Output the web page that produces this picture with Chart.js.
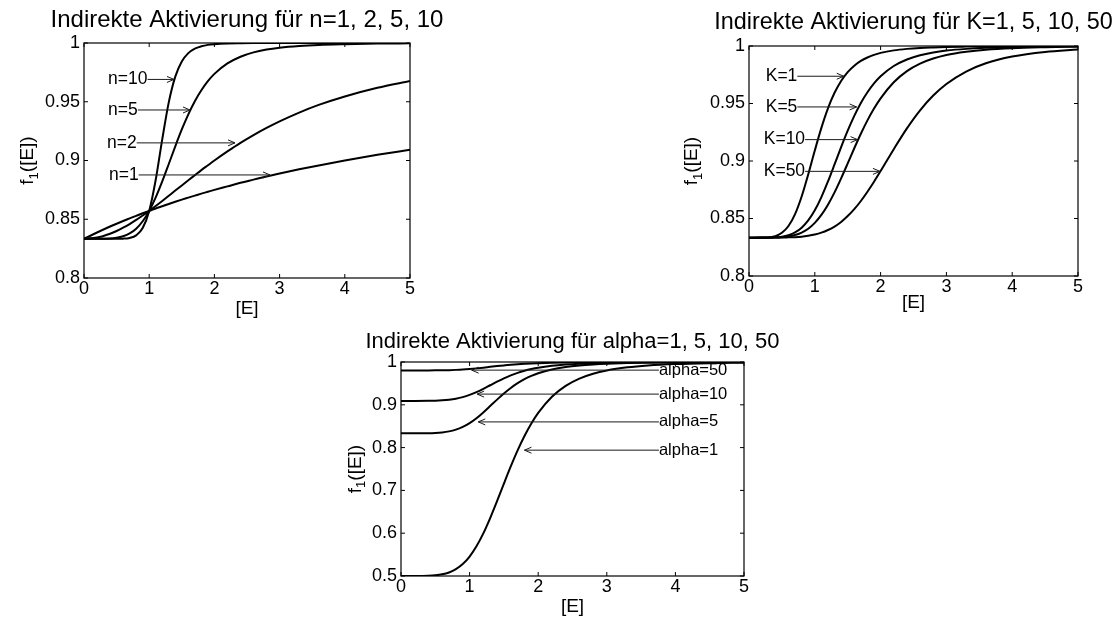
<!DOCTYPE html>
<html>
<head>
<meta charset="utf-8">
<script src="https://cdn.jsdelivr.net/npm/chart.js@4.4.0/dist/chart.umd.min.js"></script>
<style>
    html, body { margin: 0; padding: 0; background: #fff; }
    body { width: 1118px; height: 619px; position: relative; overflow: hidden; }
    canvas { position: absolute; }
</style>
</head>
<body>
<canvas id="chart-n" width="450" height="330" style="left:0px;top:0px"></canvas>
<canvas id="chart-k" width="458" height="330" style="left:660px;top:0px"></canvas>
<canvas id="chart-alpha" width="480" height="299" style="left:320px;top:320px"></canvas>
<script>
// Stützstellen [E] (gemeinsam für alle drei Diagramme)
const eWerte = [0, 0.2, 0.4, 0.5, 0.6, 0.7, 0.8, 0.9, 1.0, 1.1, 1.2, 1.3, 1.4, 1.5, 1.6, 1.7, 1.8, 1.9, 2.0, 2.2, 2.4, 2.6, 2.8, 3.0, 3.3, 3.6, 4.0, 4.5, 5.0];

// Diagramm 1: n = 1, 2, 5, 10
const n1  = [0.8333, 0.8387, 0.8438, 0.8462, 0.8485, 0.8507, 0.8529, 0.8551, 0.8571, 0.8592, 0.8611, 0.8630, 0.8649, 0.8667, 0.8684, 0.8701, 0.8718, 0.8734, 0.8750, 0.8780, 0.8810, 0.8837, 0.8864, 0.8889, 0.8925, 0.8958, 0.9000, 0.9048, 0.9091];
const n2  = [0.8333, 0.8344, 0.8377, 0.8400, 0.8428, 0.8459, 0.8494, 0.8532, 0.8571, 0.8613, 0.8656, 0.8700, 0.8744, 0.8788, 0.8832, 0.8875, 0.8918, 0.8959, 0.9000, 0.9077, 0.9150, 0.9216, 0.9277, 0.9333, 0.9408, 0.9473, 0.9545, 0.9619, 0.9677];
const n5  = [0.8333, 0.8334, 0.8336, 0.8342, 0.8355, 0.8379, 0.8420, 0.8483, 0.8571, 0.8686, 0.8822, 0.8970, 0.9121, 0.9264, 0.9393, 0.9505, 0.9598, 0.9675, 0.9737, 0.9826, 0.9883, 0.9920, 0.9944, 0.9960, 0.9975, 0.9984, 0.9990, 0.9995, 0.9997];
const n10 = [0.8333, 0.8333, 0.8333, 0.8334, 0.8335, 0.8341, 0.8363, 0.8425, 0.8571, 0.8836, 0.9180, 0.9495, 0.9714, 0.9843, 0.9914, 0.9952, 0.9972, 0.9984, 0.9990, 0.9996, 0.9998, 0.9999, 0.9999, 1, 1, 1, 1, 1, 1];

// Diagramm 2: K = 1, 5, 10, 50
const k1  = [0.8333, 0.8334, 0.8347, 0.8376, 0.8435, 0.8538, 0.8691, 0.8883, 0.9091, 0.9288, 0.9458, 0.9593, 0.9696, 0.9773, 0.9829, 0.9870, 0.9900, 0.9923, 0.9940, 0.9962, 0.9975, 0.9983, 0.9988, 0.9992, 0.9995, 0.9997, 0.9998, 0.9999, 0.9999];
const k5  = [0.8333, 0.8334, 0.8336, 0.8342, 0.8355, 0.8379, 0.8420, 0.8483, 0.8571, 0.8686, 0.8822, 0.8970, 0.9121, 0.9264, 0.9393, 0.9505, 0.9598, 0.9675, 0.9737, 0.9826, 0.9883, 0.9920, 0.9944, 0.9960, 0.9975, 0.9984, 0.9990, 0.9995, 0.9997];
const k10 = [0.8333, 0.8333, 0.8335, 0.8338, 0.8344, 0.8356, 0.8378, 0.8411, 0.8462, 0.8531, 0.8620, 0.8727, 0.8849, 0.8979, 0.9111, 0.9237, 0.9353, 0.9456, 0.9545, 0.9685, 0.9782, 0.9847, 0.9891, 0.9922, 0.9950, 0.9968, 0.9981, 0.9989, 0.9994];
const k50 = [0.8333, 0.8333, 0.8334, 0.8334, 0.8336, 0.8338, 0.8342, 0.8350, 0.8361, 0.8377, 0.8400, 0.8430, 0.8470, 0.8521, 0.8581, 0.8652, 0.8733, 0.8820, 0.8913, 0.9103, 0.9284, 0.9441, 0.9569, 0.9670, 0.9778, 0.9850, 0.9908, 0.9948, 0.9969];

// Diagramm 3: alpha = 1, 5, 10, 50
const a1  = [0.5000, 0.5000, 0.5005, 0.5016, 0.5039, 0.5083, 0.5159, 0.5279, 0.5455, 0.5694, 0.5996, 0.6354, 0.6749, 0.7158, 0.7559, 0.7934, 0.8270, 0.8562, 0.8810, 0.9187, 0.9442, 0.9612, 0.9725, 0.9802, 0.9875, 0.9919, 0.9952, 0.9973, 0.9984];
const a5  = [0.8333, 0.8334, 0.8336, 0.8342, 0.8355, 0.8379, 0.8420, 0.8483, 0.8571, 0.8686, 0.8822, 0.8970, 0.9121, 0.9264, 0.9393, 0.9505, 0.9598, 0.9675, 0.9737, 0.9826, 0.9883, 0.9920, 0.9944, 0.9960, 0.9975, 0.9984, 0.9990, 0.9995, 0.9997];
const a10 = [0.9091, 0.9091, 0.9093, 0.9096, 0.9104, 0.9118, 0.9142, 0.9179, 0.9231, 0.9297, 0.9374, 0.9457, 0.9540, 0.9618, 0.9687, 0.9746, 0.9795, 0.9835, 0.9867, 0.9912, 0.9941, 0.9960, 0.9972, 0.9980, 0.9987, 0.9992, 0.9995, 0.9997, 0.9998];
const a50 = [0.9804, 0.9804, 0.9804, 0.9805, 0.9807, 0.9810, 0.9816, 0.9824, 0.9836, 0.9851, 0.9868, 0.9887, 0.9905, 0.9921, 0.9936, 0.9948, 0.9958, 0.9967, 0.9973, 0.9982, 0.9988, 0.9992, 0.9994, 0.9996, 0.9997, 0.9998, 0.9999, 0.9999, 0.9999];

// Beschriftungen mit Pfeilen (Textanfang tx/ty, Pfeilspitze px/py, alles in Datenkoordinaten)
const pfeileN = [
    { text: 'n=10', tx: 0.37,  ty: 0.969,  px: 1.38,  py: 0.969 },
    { text: 'n=5',  tx: 0.37,  ty: 0.943,  px: 1.626, py: 0.943 },
    { text: 'n=2',  tx: 0.353, ty: 0.915,  px: 2.316, py: 0.915 },
    { text: 'n=1',  tx: 0.383, ty: 0.8877, px: 2.853, py: 0.8877 }
];
const pfeileK = [
    { text: 'K=1',  tx: 0.254, ty: 0.9737, px: 1.44,  py: 0.9737 },
    { text: 'K=5',  tx: 0.254, ty: 0.947,  px: 1.635, py: 0.947 },
    { text: 'K=10', tx: 0.224, ty: 0.9186, px: 1.65,  py: 0.9186 },
    { text: 'K=50', tx: 0.224, ty: 0.891,  px: 1.99,  py: 0.891 }
];
const pfeileAlpha = [
    { text: 'alpha=50', tx: 3.76, ty: 0.981, px: 1.03,  py: 0.981 },
    { text: 'alpha=10', tx: 3.76, ty: 0.925, px: 1.11,  py: 0.925 },
    { text: 'alpha=5',  tx: 3.76, ty: 0.86,  px: 1.127, py: 0.86 },
    { text: 'alpha=1',  tx: 3.76, ty: 0.794, px: 1.80,  py: 0.794 }
];

const SCHRIFT = '"Liberation Sans", Arial, Helvetica, sans-serif';
Chart.defaults.font.family = SCHRIFT;
Chart.defaults.color = '#000';

// Rahmen, innere Ticks, Titel, y-Beschriftung und Pfeile
const dekoPlugin = {
    id: 'deko',
    afterDraw(chart, args, opts) {
        const { ctx, chartArea: a, scales: { x, y } } = chart;
        ctx.save();

        // Achsenrahmen
        ctx.strokeStyle = '#000';
        ctx.lineWidth = 1.2;
        ctx.strokeRect(a.left, a.top, a.right - a.left, a.bottom - a.top);

        // Ticks nach innen, auf allen vier Seiten
        ctx.lineWidth = 1;
        ctx.beginPath();
        x.ticks.forEach(t => {
            const p = x.getPixelForValue(t.value);
            ctx.moveTo(p, a.bottom); ctx.lineTo(p, a.bottom - 4);
            ctx.moveTo(p, a.top); ctx.lineTo(p, a.top + 4);
        });
        y.ticks.forEach(t => {
            const p = y.getPixelForValue(t.value);
            ctx.moveTo(a.left, p); ctx.lineTo(a.left + 4, p);
            ctx.moveTo(a.right, p); ctx.lineTo(a.right - 4, p);
        });
        ctx.stroke();

        // Titel
        ctx.fillStyle = '#000';
        ctx.font = opts.titelGroesse + 'px ' + SCHRIFT;
        ctx.textAlign = 'center';
        ctx.textBaseline = 'alphabetic';
        ctx.fillText(opts.titel, (a.left + a.right) / 2, a.top - opts.titelAbstand);

        // y-Beschriftung f_1([E]) mit Index
        ctx.save();
        ctx.translate(a.left + opts.yLabelAbstand, (a.top + a.bottom) / 2);
        ctx.rotate(-Math.PI / 2);
        ctx.textAlign = 'left';
        ctx.textBaseline = 'middle';
        ctx.font = '19px ' + SCHRIFT;
        const wf = ctx.measureText('f').width;
        const wr = ctx.measureText('([E])').width;
        ctx.font = '13px ' + SCHRIFT;
        const w1 = ctx.measureText('1').width;
        let s = -(wf + w1 + wr) / 2;
        ctx.font = '19px ' + SCHRIFT;
        ctx.fillText('f', s, 0);
        ctx.font = '13px ' + SCHRIFT;
        ctx.fillText('1', s + wf, 6);
        ctx.font = '19px ' + SCHRIFT;
        ctx.fillText('([E])', s + wf + w1, 0);
        ctx.restore();

        // Pfeile mit Beschriftung
        ctx.font = opts.pfeilGroesse + 'px ' + SCHRIFT;
        ctx.textAlign = 'left';
        ctx.textBaseline = 'middle';
        opts.pfeile.forEach(p => {
            const tx = x.getPixelForValue(p.tx);
            const ty = y.getPixelForValue(p.ty);
            const sx = x.getPixelForValue(p.px);
            const sy = y.getPixelForValue(p.py);
            const w = ctx.measureText(p.text).width;
            ctx.fillStyle = '#000';
            ctx.fillText(p.text, tx, ty);
            const x0 = sx > tx ? tx + w : tx;
            const dx = sx - x0, dy = sy - ty;
            const len = Math.hypot(dx, dy);
            const ux = dx / len, uy = dy / len;
            ctx.strokeStyle = '#1a1a1a';
            ctx.lineWidth = 1;
            ctx.beginPath();
            ctx.moveTo(x0, ty);
            ctx.lineTo(sx, sy);
            ctx.moveTo(sx - ux * 7 - uy * 3, sy - uy * 7 + ux * 3);
            ctx.lineTo(sx, sy);
            ctx.lineTo(sx - ux * 7 + uy * 3, sy - uy * 7 - ux * 3);
            ctx.stroke();
        });

        ctx.restore();
    }
};

function datensaetze(reihen) {
    return reihen.map(r => ({
        data: eWerte.map((e, i) => ({ x: e, y: r[i] })),
        borderColor: '#000',
        borderWidth: 2,
        pointRadius: 0,
        fill: false,
        cubicInterpolationMode: 'monotone'
    }));
}

function skalen(yMin, yMax, yStep, yBreite, xHoehe, xTitelPad) {
    return {
        x: {
            type: 'linear', min: 0, max: 5,
            grid: { display: false, drawTicks: false },
            border: { display: false },
            ticks: { stepSize: 1, padding: 0, font: { size: 18 } },
            title: { display: true, text: '[E]', font: { size: 19 }, padding: { top: 0, bottom: xTitelPad } },
            afterFit(s) { s.height = xHoehe; }
        },
        y: {
            type: 'linear', min: yMin, max: yMax,
            grid: { display: false, drawTicks: false },
            border: { display: false },
            ticks: { stepSize: yStep, padding: 4, font: { size: 18 }, callback: v => String(+v.toFixed(2)) },
            afterFit(s) { s.width = yBreite; }
        }
    };
}

function diagramm(id, reihen, skala, padding, deko) {
    new Chart(document.getElementById(id), {
        type: 'line',
        data: { datasets: datensaetze(reihen) },
        options: {
            responsive: false,
            animation: false,
            layout: { padding: padding },
            scales: skala,
            plugins: {
                legend: { display: false },
                tooltip: { enabled: false },
                deko: deko
            }
        },
        plugins: [dekoPlugin]
    });
}

document.addEventListener('DOMContentLoaded', function() {
    diagramm('chart-n', [n1, n2, n5, n10],
        skalen(0.8, 1, 0.05, 84, 45, 3.1),
        { left: 0, top: 43, right: 40, bottom: 7 },
        { titel: 'Indirekte Aktivierung für n=1, 2, 5, 10', titelGroesse: 24, titelAbstand: 16, yLabelAbstand: -56, pfeilGroesse: 17.5, pfeile: pfeileN });

    diagramm('chart-k', [k1, k5, k10, k50],
        skalen(0.8, 1, 0.05, 89, 45, 7.1),
        { left: 0, top: 46, right: 40, bottom: 9 },
        { titel: 'Indirekte Aktivierung für K=1, 5, 10, 50', titelGroesse: 23.4, titelAbstand: 17, yLabelAbstand: -57, pfeilGroesse: 17.5, pfeile: pfeileK });

    diagramm('chart-alpha', [a1, a5, a10, a50],
        skalen(0.5, 1, 0.1, 81, 43, 1.1),
        { left: 0, top: 42, right: 56, bottom: 0 },
        { titel: 'Indirekte Aktivierung für alpha=1, 5, 10, 50', titelGroesse: 22, titelAbstand: 14.5, yLabelAbstand: -45.5, pfeilGroesse: 16.5, pfeile: pfeileAlpha });
});
</script>
</body>
</html>
